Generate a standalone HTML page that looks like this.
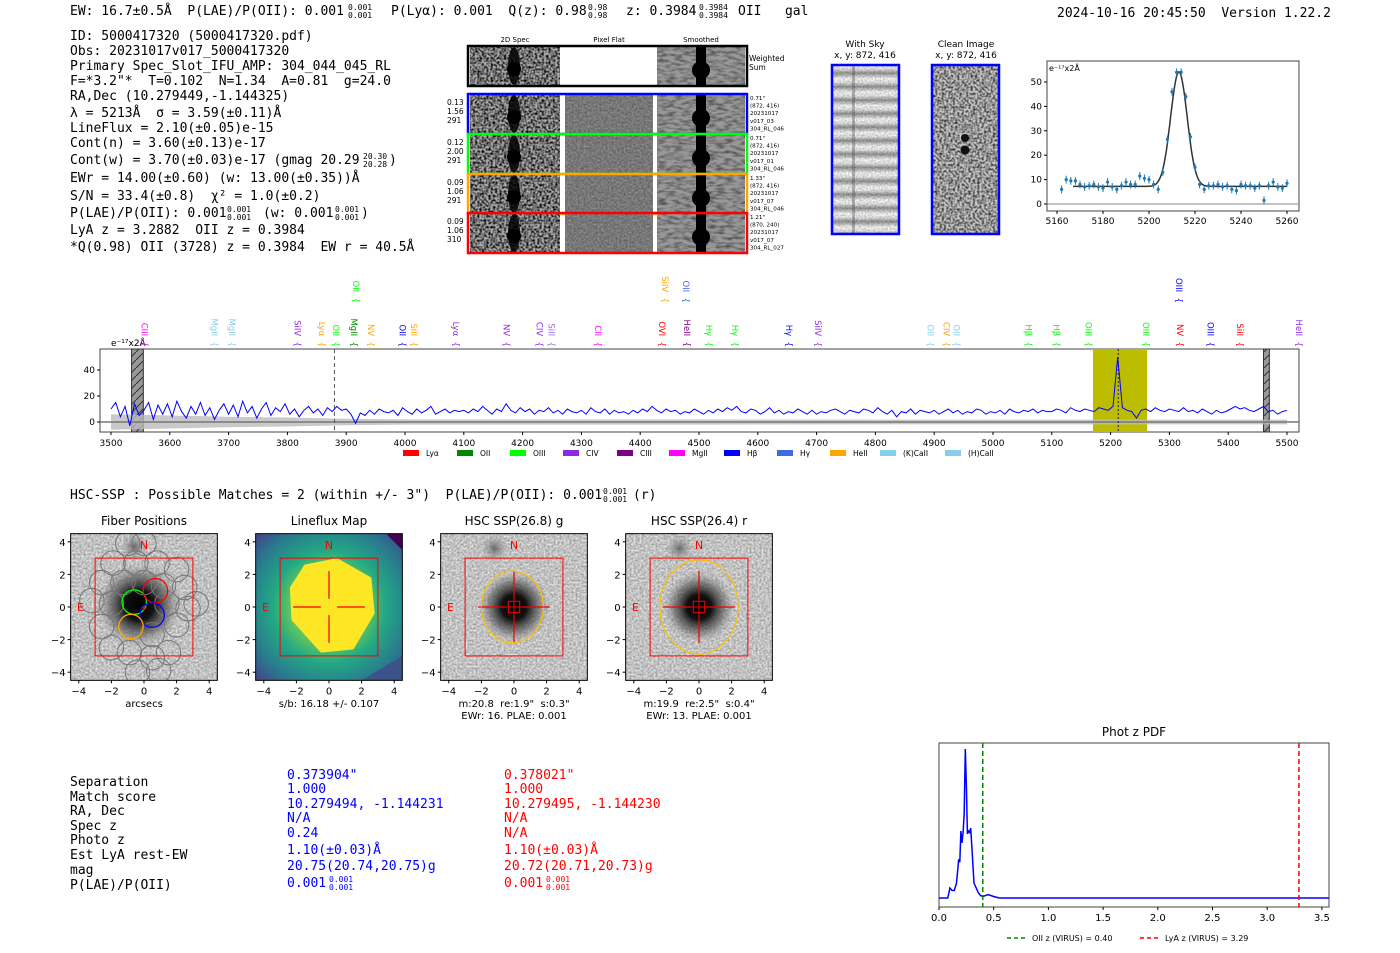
<!DOCTYPE html>
<html><head><meta charset="utf-8">
<style>
html,body{margin:0;padding:0;background:#fff;}
svg{display:block;}
text{white-space:pre;}
.m{font-family:"DejaVu Sans Mono","Liberation Mono",monospace;font-size:13px;}
.s{font-family:"DejaVu Sans","Liberation Sans",sans-serif;}
</style></head>
<body>
<svg id="root" width="1400" height="953" viewBox="0 0 1400 953" xmlns="http://www.w3.org/2000/svg">
<defs>
<filter id="noise" x="0" y="0" width="100%" height="100%"><feTurbulence type="fractalNoise" baseFrequency="0.45" numOctaves="1" seed="3"/><feColorMatrix type="matrix" values="0 0 0 0 0 0 0 0 0 0 0 0 0 0 0 2.5 0 0 0 -0.9"/></filter>
<filter id="noise2" x="0" y="0" width="100%" height="100%"><feTurbulence type="fractalNoise" baseFrequency="0.12 0.35" numOctaves="2" seed="7"/><feColorMatrix type="matrix" values="0 0 0 0 0 0 0 0 0 0 0 0 0 0 0 1.8 0 0 0 -0.7"/></filter>
<filter id="noise3" x="0" y="0" width="100%" height="100%"><feTurbulence type="fractalNoise" baseFrequency="0.5" numOctaves="1" seed="11"/><feColorMatrix type="matrix" values="0 0 0 0 0 0 0 0 0 0 0 0 0 0 0 0.6 0 0 0 -0.15"/></filter>
<filter id="noise4" x="0" y="0" width="100%" height="100%"><feTurbulence type="fractalNoise" baseFrequency="0.6" numOctaves="1" seed="5"/><feColorMatrix type="matrix" values="0 0 0 0 0 0 0 0 0 0 0 0 0 0 0 0.5 0 0 0 -0.15"/></filter>
<radialGradient id="blob"><stop offset="0" stop-color="#000"/><stop offset="0.35" stop-color="#111"/><stop offset="0.7" stop-color="#555" stop-opacity="0.6"/><stop offset="1" stop-color="#999" stop-opacity="0"/></radialGradient>
<radialGradient id="blobs"><stop offset="0" stop-color="#666"/><stop offset="1" stop-color="#aaa" stop-opacity="0"/></radialGradient>
<radialGradient id="vir" cx="0.5" cy="0.5" r="0.7"><stop offset="0.3" stop-color="#7ad151"/><stop offset="0.55" stop-color="#22a884"/><stop offset="0.8" stop-color="#2a788e"/><stop offset="1" stop-color="#414487"/></radialGradient>
<pattern id="hatch" width="8" height="8" patternUnits="userSpaceOnUse"><rect width="8" height="8" fill="#999"/><path d="M0 8 L8 0" stroke="#333" stroke-width="1"/></pattern>
<linearGradient id="stripeg" x1="0" y1="0" x2="0" y2="1"><stop offset="0" stop-color="#fff"/><stop offset="0.3" stop-color="#eee"/><stop offset="0.6" stop-color="#999"/><stop offset="1" stop-color="#fff"/></linearGradient>
<pattern id="stripes" x="0" y="65" width="67" height="13.5" patternUnits="userSpaceOnUse"><rect width="67" height="13.5" fill="url(#stripeg)"/></pattern>
</defs>

<g class="m">
<text x="70" y="15">EW: 16.7±0.5Å  P(LAE)/P(OII): 0.001</text>
<text x="348" y="10" font-size="8">0.001</text><text x="348" y="18" font-size="8">0.001</text>
<text x="391" y="15">P(Lyα): 0.001  Q(z): 0.98</text>
<text x="588" y="10" font-size="8">0.98</text><text x="588" y="18" font-size="8">0.98</text>
<text x="626" y="15">z: 0.3984</text>
<text x="699" y="10" font-size="8">0.3984</text><text x="699" y="18" font-size="8">0.3984</text>
<text x="738" y="15">OII   gal</text>
<text x="1057" y="17">2024-10-16 20:45:50  Version 1.22.2</text>
</g>

<g class="m">
<text x="70" y="40">ID: 5000417320 (5000417320.pdf)</text>
<text x="70" y="55">Obs: 20231017v017_5000417320</text>
<text x="70" y="70">Primary Spec_Slot_IFU_AMP: 304_044_045_RL</text>
<text x="70" y="85">F=*3.2"*  T=0.102  N=1.34  A=0.81  g=24.0</text>
<text x="70" y="100">RA,Dec (10.279449,-1.144325)</text>
<text x="70" y="117">λ = 5213Å  σ = 3.59(±0.11)Å</text>
<text x="70" y="132">LineFlux = 2.10(±0.05)e-15</text>
<text x="70" y="147">Cont(n) = 3.60(±0.13)e-17</text>
<text x="70" y="164">Cont(w) = 3.70(±0.03)e-17 (gmag 20.29</text>
<text x="363" y="159" font-size="8">20.30</text><text x="363" y="167" font-size="8">20.28</text><text x="389" y="164">)</text>
<text x="70" y="182">EWr = 14.00(±0.60) (w: 13.00(±0.35))Å</text>
<text x="70" y="200">S/N = 33.4(±0.8)  χ² = 1.0(±0.2)</text>
<text x="70" y="217">P(LAE)/P(OII): 0.001</text>
<text x="227" y="212" font-size="8">0.001</text><text x="227" y="220" font-size="8">0.001</text>
<text x="263" y="217">(w: 0.001</text>
<text x="335" y="212" font-size="8">0.001</text><text x="335" y="220" font-size="8">0.001</text><text x="361" y="217">)</text>
<text x="70" y="234">LyA z = 3.2882  OII z = 0.3984</text>
<text x="70" y="251">*Q(0.98) OII (3728) z = 0.3984  EW r = 40.5Å</text>
</g>

<g id="cutouts">
<g class="s" font-size="7" text-anchor="middle"><text x="515" y="42">2D Spec</text><text x="609" y="42">Pixel Flat</text><text x="701" y="42">Smoothed</text></g>
</g>

<g class="s" font-size="9" text-anchor="middle">
<text x="865" y="47">With Sky</text><text x="865" y="58">x, y: 872, 416</text>
<text x="966" y="47">Clean Image</text><text x="966" y="58">x, y: 872, 416</text>
<rect x="832" y="65" width="67" height="169" fill="url(#stripes)"/>
<rect x="832" y="65" width="67" height="169" filter="url(#noise4)"/>
<rect x="852" y="65" width="3" height="169" fill="#444" opacity="0.35"/>
<rect x="932" y="65" width="67" height="169" fill="#c8c8c8"/>
<rect x="932" y="65" width="67" height="169" filter="url(#noise)" opacity="0.75"/>
<ellipse cx="965" cy="138" rx="4" ry="4" fill="#111"/><ellipse cx="965" cy="150" rx="4.5" ry="4.5" fill="#111"/>
<rect x="832" y="65" width="67" height="169" fill="none" stroke="#00f" stroke-width="2.5"/>
<rect x="932" y="65" width="67" height="169" fill="none" stroke="#00f" stroke-width="2.5"/>
</g>

<g id="fit" class="s" font-size="9"></g>
<g id="spec" class="s" font-size="9"></g>

<g class="m">
<text x="70" y="499">HSC-SSP : Possible Matches = 2 (within +/- 3")  P(LAE)/P(OII): 0.001</text>
<text x="603" y="494" font-size="8">0.001</text><text x="603" y="502" font-size="8">0.001</text>
<text x="633" y="499">(r)</text>
</g>
<g id="panels" class="s"></g>

<g class="m">
<g>
<text x="70" y="786">Separation</text><text x="70" y="801">Match score</text><text x="70" y="815">RA, Dec</text><text x="70" y="830">Spec z</text><text x="70" y="844">Photo z</text><text x="70" y="859">Est LyA rest-EW</text><text x="70" y="874">mag</text><text x="70" y="889">P(LAE)/P(OII)</text>
</g>
<g fill="#00f">
<text x="287" y="779">0.373904"</text><text x="287" y="793">1.000</text><text x="287" y="808">10.279494, -1.144231</text><text x="287" y="822">N/A</text><text x="287" y="837">0.24</text><text x="287" y="854">1.10(±0.03)Å</text><text x="287" y="870">20.75(20.74,20.75)g</text><text x="287" y="887">0.001</text>
<text x="329" y="882" font-size="8">0.001</text><text x="329" y="890" font-size="8">0.001</text>
</g>
<g fill="#f00">
<text x="504" y="779">0.378021"</text><text x="504" y="793">1.000</text><text x="504" y="808">10.279495, -1.144230</text><text x="504" y="822">N/A</text><text x="504" y="837">N/A</text><text x="504" y="854">1.10(±0.03)Å</text><text x="504" y="870">20.72(20.71,20.73)g</text><text x="504" y="887">0.001</text>
<text x="546" y="882" font-size="8">0.001</text><text x="546" y="890" font-size="8">0.001</text>
</g>
</g>

<g id="pdf" class="s" font-size="10"></g>
</svg>

<script>
const fitWave = [5162,5164,5166,5168,5170,5172,5174,5176,5178,5180,5182,5184,5186,5188,5190,5192,5194,5196,5198,5200,5202,5204,5206,5208,5210,5212,5214,5216,5218,5220,5222,5224,5226,5228,5230,5232,5234,5236,5238,5240,5242,5244,5246,5248,5250,5252,5254,5256,5258,5260];
const fitFlux = [6,10,9.5,9.5,8,7,7.5,8,7,6.5,9,7,6,7.5,9,8,8,11.5,10.5,10,8,6,13,26.5,46,54,54,44,27.5,15,8,6,7.5,7.5,8,7,7.5,6,5.5,8,7.5,7.5,6.5,7.5,1.5,7.5,9,7,6.5,8.5];
const fitTicksX = [5160,5180,5200,5220,5240,5260];
const fitTicksY = [0,10,20,30,40,50];
const fitCenter = 5213, fitSigma = 3.59, fitAmp = 47, fitCont = 7.2;

const specStart = 3500, specStep = 8;
const specFlux = [
10,15,4,12,-3,14,5,9,15,2,13,6,14,4,16,8,3,12,6,15,5,11,2,9,14,
6,13,4,16,7,12,3,10,15,5,11,8,14,6,10,4,9,12,7,10,5,11,8,12,9,
10,6,-1,7,5,9,6,10,8,7,9,5,11,8,6,10,7,9,12,6,8,10,7,9,8,
9,7,10,8,12,9,6,10,8,14,9,7,11,8,10,6,9,8,11,7,9,6,10,8,7,
9,6,11,8,7,10,6,9,7,8,6,9,7,10,8,12,9,7,10,8,9,6,8,7,10,
8,6,9,7,10,8,11,9,12,8,7,10,9,6,8,11,7,9,6,8,7,10,8,6,9,
6,8,7,9,10,8,6,9,8,7,10,9,7,11,8,6,9,4,8,7,10,6,9,8,7,
9,6,8,10,7,9,6,8,7,10,9,6,8,7,9,6,10,8,7,9,8,10,7,9,8,
8,10,9,7,11,9,8,10,9,8,11,10,9,12,50,11,9,8,3,9,10,8,11,9,8,
10,9,8,11,8,9,7,10,8,6,9,7,8,10,12,10,11,9,8,10,12,8,9,6,8,
9];
const errWave = [3500,3600,3700,3800,3900,4000,4200,4500,5000,5500];
const errVal = [6,5,4,3.5,2.5,2,2,2,1.8,1.8];
const specTicksX = [3500,3600,3700,3800,3900,4000,4100,4200,4300,4400,4500,4600,4700,4800,4900,5000,5100,5200,5300,5400,5500];
const specTicksY = [0,20,40];
const lineNames = ["CIII","MgII","MgII","SiIV","Lyα","OII","MgII","NV","OII","SiII","Lyα","NV","CIV","SiII","CII","OVI","HeII","Hγ","Hγ","Hγ","SiIV","OII","CIV","OII","Hβ","Hβ","OIII","OIII","NV","OIII","SiII","HeII","OII","SiIV","OII","OIII"];
const lineWaves = [3557,3676,3706,3817,3859,3883,3913,3942,3996,4015,4087,4173,4229,4249,4328,4437,4480,4517,4561,4653,4702,4894,4921,4938,5060,5108,5162,5260,5318,5370,5420,5520,3917,4442,4478,5316];
const lineColors = ["#f0f","#87ceeb","#87ceeb","#8a2be2","#ffa500","#0f0","#080","#ffa500","#00f","#ffa500","#8a2be2","#8a2be2","#8a2be2","#9370db","#f0f","#f00","#800080","#0f0","#0f0","#00f","#8a2be2","#87ceeb","#ffa500","#87ceeb","#0f0","#0f0","#0f0","#0f0","#f00","#00f","#f00","#8a2be2","#0f0","#ffa500","#4169e1","#00f"];
const lineRow = [0,0,0,0,0,0,0,0,0,0,0,0,0,0,0,0,0,0,0,0,0,0,0,0,0,0,0,0,0,0,0,0,1,1,1,1];
const legendNames = ["Lyα","OII","OIII","CIV","CIII","MgII","Hβ","Hγ","HeII","(K)CaII","(H)CaII"];
const legendColors = ["#f00","#080","#0f0","#8a2be2","#800080","#f0f","#00f","#4169e1","#ffa500","#87ceeb","#87ceeb"];

const pdfZ = [0,0.08,0.1,0.12,0.14,0.16,0.18,0.19,0.2,0.21,0.22,0.23,0.24,0.25,0.26,0.27,0.28,0.29,0.3,0.32,0.34,0.36,0.38,0.4,0.45,0.5,0.55,3.6];
const pdfP = [0,0,0.067,0.05,0.05,0.1,0.26,0.24,0.45,0.37,0.44,0.57,1.0,0.75,0.43,0.45,0.44,0.47,0.35,0.1,0.067,0.034,0.016,0.01,0.022,0.01,0,0];
const pdfTicks = [0,0.5,1,1.5,2,2.5,3,3.5];
const pdfOIIz = 0.40, pdfLyAz = 3.29;

const NS = "http://www.w3.org/2000/svg";
function mk(parent, tag, attrs, text){
  const e = document.createElementNS(NS, tag);
  for (const k in attrs) e.setAttribute(k, attrs[k]);
  if (text !== undefined) e.textContent = text;
  parent.appendChild(e);
  return e;
}

(function(){
  const g = document.getElementById('cutouts');
  const rows = [{y:47,h:38,c:"#000",lab:null},
    {y:95,h:38,c:"#00f",lab:["0.13","1.56","291"],side:["0.71\"","(872, 416)","20231017","v017_03","304_RL_046"]},
    {y:135,h:38,c:"#0f0",lab:["0.12","2.00","291"],side:["0.71\"","(872, 416)","20231017","v017_01","304_RL_046"]},
    {y:175,h:38,c:"#ffa500",lab:["0.09","1.06","291"],side:["1.33\"","(872, 416)","20231017","v017_07","304_RL_046"]},
    {y:214,h:38,c:"#f00",lab:["0.09","1.06","310"],side:["1.21\"","(870, 240)","20231017","v017_07","304_RL_027"]}];
  rows.forEach((r,i)=>{
    const row = mk(g,'g',{});
    
    
    mk(row,'rect',{x:470,y:r.y,width:90,height:r.h,fill:"#aaa"});
    mk(row,'rect',{x:470,y:r.y,width:90,height:r.h,filter:"url(#noise)"});
    mk(row,'ellipse',{cx:514,cy:r.y+r.h/2,rx:6,ry:r.h/2,fill:"#000",opacity:0.85});
    mk(row,'circle',{cx:514,cy:r.y+r.h/2+3,r:7,fill:"#000"});
    mk(row,'rect',{x:565,y:r.y,width:88,height:r.h,fill: i==0?"#fff":"#8c8c8c"});
    if(i>0) mk(row,'rect',{x:565,y:r.y,width:88,height:r.h,filter:"url(#noise3)"});
    mk(row,'rect',{x:657,y:r.y,width:88,height:r.h,fill:"#999"});
    mk(row,'rect',{x:657,y:r.y,width:88,height:r.h,filter:"url(#noise2)",opacity:0.6});
    mk(row,'rect',{x:696,y:r.y,width:10,height:r.h,fill:"#000"});
    mk(row,'circle',{cx:701,cy:r.y+r.h/2+4,r:9,fill:"#000"});
    mk(row,'rect',{x:468,y:r.y-1,width:279,height:r.h+2,fill:"none",stroke:r.c,"stroke-width":2.5});
    if(r.lab){ r.lab.forEach((t,j)=>mk(row,'text',{x:447,y:r.y+10+j*9,"font-size":7.5,"font-family":"DejaVu Sans, sans-serif"},t));
      r.side.forEach((t,j)=>mk(row,'text',{x:750,y:r.y+5+j*7.6,"font-size":5.6,"font-family":"DejaVu Sans, sans-serif"},t)); }
    else { mk(row,'text',{x:749,y:61,"font-size":7.5,"font-family":"DejaVu Sans, sans-serif"},"Weighted");
      mk(row,'text',{x:749,y:70,"font-size":7.5,"font-family":"DejaVu Sans, sans-serif"},"Sum"); }
  });
})();

(function(){
  const g = document.getElementById('fit');
  const fx = w => 1057 + (w-5160)*2.3, fy = v => 204 - v*2.44;
  mk(g,'rect',{x:1047,y:61,width:252,height:150,fill:"#fff",stroke:"#444","stroke-width":1});
  mk(g,'line',{x1:1047,x2:1299,y1:fy(0),y2:fy(0),stroke:"#888"});
  fitTicksY.forEach(v=>{ mk(g,'line',{x1:1044,x2:1047,y1:fy(v),y2:fy(v),stroke:"#000"});
    mk(g,'text',{x:1042,y:fy(v)+3,"text-anchor":"end"},String(v)); });
  fitTicksX.forEach(v=>{ mk(g,'line',{x1:fx(v),x2:fx(v),y1:211,y2:214,stroke:"#000"});
    mk(g,'text',{x:fx(v),y:224,"text-anchor":"middle"},String(v)); });
  mk(g,'text',{x:1049,y:71,"font-size":8},"e⁻¹⁷x2Å");
  let d="";
  for(let w=5167; w<=5260; w+=0.5){ const v=fitCont+fitAmp*Math.exp(-0.5*Math.pow((w-fitCenter)/fitSigma,2)); d+=(d?"L":"M")+fx(w).toFixed(1)+" "+fy(v).toFixed(1); }
  const fl = mk(g,'path',{d:d,fill:"none",stroke:"#333","stroke-width":1.5});
  
  
  fitWave.forEach((w,i)=>{
    const p = mk(g,'g',{});
    
    
    mk(p,'line',{x1:fx(w),x2:fx(w),y1:fy(fitFlux[i]+1.6),y2:fy(fitFlux[i]-1.6),stroke:"#1f77b4","stroke-width":1});
    mk(p,'circle',{cx:fx(w),cy:fy(fitFlux[i]),r:1.6,fill:"#1f77b4"});
  });
})();

(function(){
  const g = document.getElementById('spec');
  const fx = w => 111 + (w-3500)*0.588, fy = v => 422 - v*1.3;
  mk(g,'rect',{x:100,y:349,width:1199,height:83,fill:"#fff",stroke:"#444"});
  const band = mk(g,'rect',{x:fx(5170),y:349,width:fx(5262)-fx(5170),height:83,fill:"#bdbd00"});
  
  
  mk(g,'rect',{x:fx(3535),y:349,width:fx(3555)-fx(3535),height:83,fill:"url(#hatch)",stroke:"#333"});
  mk(g,'rect',{x:fx(5460),y:349,width:fx(5470)-fx(5460),height:83,fill:"url(#hatch)",stroke:"#333"});
  let up="",dn="";
  errWave.forEach((w,i)=>{ up+=(up?"L":"M")+fx(w)+" "+fy(errVal[i]); });
  for(let i=errWave.length-1;i>=0;i--) dn+="L"+fx(errWave[i])+" "+fy(-errVal[i]);
  mk(g,'path',{d:up+dn+"Z",fill:"#bbb",opacity:0.8});
  mk(g,'line',{x1:100,x2:1299,y1:fy(0),y2:fy(0),stroke:"#777","stroke-width":1.5});
  mk(g,'line',{x1:fx(3880),x2:fx(3880),y1:349,y2:432,stroke:"#555","stroke-dasharray":"4,3"});
  mk(g,'line',{x1:fx(5213),x2:fx(5213),y1:349,y2:432,stroke:"#222","stroke-dasharray":"2,2"});
  let d="";
  specFlux.forEach((v,i)=>{ d+=(i?"L":"M")+fx(specStart+i*specStep).toFixed(1)+" "+fy(v).toFixed(1); });
  const sl = mk(g,'path',{d:d,fill:"none",stroke:"#00f","stroke-width":1});
  
  
  specTicksY.forEach(v=>{ mk(g,'line',{x1:97,x2:100,y1:fy(v),y2:fy(v),stroke:"#000"});
    mk(g,'text',{x:95,y:fy(v)+3,"text-anchor":"end"},String(v)); });
  specTicksX.forEach(v=>{ mk(g,'line',{x1:fx(v),x2:fx(v),y1:432,y2:435,stroke:"#000"});
    mk(g,'text',{x:fx(v),y:446,"text-anchor":"middle"},String(v)); });
  mk(g,'text',{x:111,y:346,"font-size":9},"e⁻¹⁷x2Å");
  lineNames.forEach((n,i)=>{
    const x=fx(lineWaves[i]), yEnd = lineRow[i]?303:347;
    const t = mk(g,'text',{x:0,y:0,fill:lineColors[i],"font-size":8.5,"text-anchor":"end",transform:`translate(${x-3},${yEnd}) rotate(90)`},n+"  {");
    
    
  });
  const lxs=[403,457,510,563,617,669,724,777,830,880,945];
  legendNames.forEach((n,i)=>{
    const e=mk(g,'g',{});
    
    
    mk(e,'rect',{x:lxs[i],y:450,width:16,height:6,fill:legendColors[i]});
    mk(e,'text',{x:lxs[i]+23,y:456,"font-size":7.5},n);
  });
})();

(function(){
  const g = document.getElementById('panels');
  const panels=[{cx:144,title:"Fiber Positions",sub:["arcsecs"]},{cx:329,title:"Lineflux Map",sub:["s/b: 16.18 +/- 0.107"]},
   {cx:514,title:"HSC SSP(26.8) g",sub:["m:20.8  re:1.9\"  s:0.3\"","EWr: 16. PLAE: 0.001"]},{cx:699,title:"HSC SSP(26.4) r",sub:["m:19.9  re:2.5\"  s:0.4\"","EWr: 13. PLAE: 0.001"]}];
  const cy=607, s=16.3;
  const fibers=[[-1,3.9],[0,3.9],[-1.9,2.7],[-0.5,2.7],[0.8,2.7],[2,2.3],[-2.6,1.5],[-1.3,1.5],[0,1.5],[1.2,1.3],[2.5,1.2],[-3.2,0.4],[-2,0.2],[1.4,0.2],[2.7,-0.1],[3.2,0.2],[-2.6,-1.2],[0.5,-1.7],[2,-1.1],[-2,-2.5],[-0.9,-2.8],[0.5,-3.1],[1.5,-2.8],[0.9,-3.9],[-0.4,-4]];
  panels.forEach((p,pi)=>{
    const pg=mk(g,'g',{});
    
    
    const X=v=>p.cx+v*s, Y=v=>cy-v*s;
    mk(pg,'text',{x:p.cx,y:525,"text-anchor":"middle","font-size":12},p.title);
    const cpp=mk(pg,'clipPath',{id:"cp"+pi});
    mk(cpp,'rect',{x:X(-4.5),y:Y(4.5),width:9*s,height:9*s});
    const ig=mk(pg,'g',{"clip-path":`url(#cp${pi})`});
    if(pi==1){
      mk(ig,'rect',{x:X(-4.5),y:Y(4.5),width:9*s,height:9*s,fill:"url(#vir)"});
      mk(ig,'polygon',{points:[[-1.5,2.6],[0.5,3.0],[2.6,1.8],[2.8,-0.4],[1.5,-2.6],[-0.5,-2.8],[-2.3,-0.8],[-2.4,1.2]].map(a=>X(a[0])+","+Y(a[1])).join(" "),fill:"#fde725"});
      mk(ig,'polygon',{points:[[3.5,4.5],[4.5,4.5],[4.5,3.5]].map(a=>X(a[0])+","+Y(a[1])).join(" "),fill:"#440154"});
      mk(ig,'polygon',{points:[[2,-4.5],[4.5,-4.5],[4.5,-3]].map(a=>X(a[0])+","+Y(a[1])).join(" "),fill:"#3b528b"});
    } else {
      mk(ig,'rect',{x:X(-4.5),y:Y(4.5),width:9*s,height:9*s,fill:"#e4e4e4"});
      mk(ig,'rect',{x:X(-4.5),y:Y(4.5),width:9*s,height:9*s,filter:"url(#noise3)"});
      const bx = pi==0?-0.3:0, by = pi==0?0.1:0;
      mk(ig,'circle',{cx:X(bx),cy:Y(by),r:pi==0?2.6*s:2.2*s,fill:"url(#blob)"});
      mk(ig,'circle',{cx:X(pi==0?-0.6:-1.2),cy:Y(pi==0?3.7:3.6),r:0.9*s,fill:"url(#blobs)"});
    }
    if(pi==0){
      fibers.forEach(f=>mk(ig,'circle',{cx:X(f[0]),cy:Y(f[1]),r:0.75*s,fill:"none",stroke:"#777","stroke-width":1}));
      [[-0.6,0.3,"#0f0"],[0.7,1.0,"#f00"],[0.5,-0.5,"#00f"],[-0.8,-1.2,"#ffa500"]].forEach(c=>mk(ig,'circle',{cx:X(c[0]),cy:Y(c[1]),r:0.75*s,fill:"none",stroke:c[2],"stroke-width":1.3}));
    }
    mk(pg,'rect',{x:X(-3),y:Y(3),width:6*s,height:6*s,fill:"none",stroke:"#f00","stroke-width":1});
    if(pi>0){
      mk(pg,'path',{d:`M${X(-2.2)} ${cy}H${X(-0.5)}M${X(0.5)} ${cy}H${X(2.2)}M${p.cx} ${Y(2.2)}V${Y(0.5)}M${p.cx} ${Y(-0.5)}V${Y(-2.2)}`,stroke:"#e00","stroke-width":1.2});
    } else mk(pg,'text',{x:p.cx,y:cy+4,fill:"#f00","font-size":10,"text-anchor":"middle"},"+");
    if(pi>=2){
      mk(pg,'ellipse',{cx:X(pi==2?-0.1:0),cy:cy,rx:(pi==2?1.9:2.4)*s,ry:(pi==2?2.2:2.9)*s,fill:"none",stroke:"#ffc000","stroke-width":1.2});
      mk(pg,'rect',{x:X(-0.35),y:Y(0.35),width:0.7*s,height:0.7*s,fill:"none",stroke:"#f00","stroke-width":1});
      mk(pg,'path',{d:`M${X(-2)} ${cy}H${X(2)}M${p.cx} ${Y(2)}V${Y(-2)}`,stroke:"#e00","stroke-width":1});
    }
    mk(pg,'text',{x:p.cx,y:Y(3.8)+4,fill:"#f00","font-size":11,"text-anchor":"middle"},"N");
    mk(pg,'text',{x:X(-3.9),y:cy+4,fill:"#f00","font-size":11,"text-anchor":"middle"},"E");
    mk(pg,'rect',{x:X(-4.5),y:Y(4.5),width:9*s,height:9*s,fill:"none",stroke:"#000","stroke-width":1});
    [-4,-2,0,2,4].forEach(v=>{
      mk(pg,'line',{x1:X(v),x2:X(v),y1:Y(-4.5),y2:Y(-4.5)+3,stroke:"#000"});
      mk(pg,'text',{x:X(v),y:Y(-4.5)+14,"text-anchor":"middle","font-size":10},v<0?"−"+(-v):String(v));
      mk(pg,'line',{x1:X(-4.5)-3,x2:X(-4.5),y1:Y(v),y2:Y(v),stroke:"#000"});
      mk(pg,'text',{x:X(-4.5)-5,y:Y(v)+4,"text-anchor":"end","font-size":10},v<0?"−"+(-v):String(v));
    });
    p.sub.forEach((t,j)=>mk(pg,'text',{x:p.cx,y:707+j*12,"text-anchor":"middle","font-size":10},t));
  });
})();

(function(){
  const g = document.getElementById('pdf');
  const fx = z => 939 + z*109.4, fy = p => 898 - p*149;
  mk(g,'text',{x:1134,y:736,"text-anchor":"middle","font-size":12},"Phot z PDF");
  mk(g,'rect',{x:939,y:743,width:390,height:164,fill:"#fff",stroke:"#444"});
  let d="";
  pdfZ.forEach((z,i)=>{ d+=(i?"L":"M")+Math.min(fx(z),1329).toFixed(1)+" "+fy(pdfP[i]).toFixed(1); });
  const pl=mk(g,'path',{d:d,fill:"none",stroke:"#00f","stroke-width":1.5});
  
  
  mk(g,'line',{x1:fx(pdfOIIz),x2:fx(pdfOIIz),y1:743,y2:907,stroke:"#080","stroke-width":1.5,"stroke-dasharray":"5,3"});
  mk(g,'line',{x1:fx(pdfLyAz),x2:fx(pdfLyAz),y1:743,y2:907,stroke:"#f00","stroke-width":1.5,"stroke-dasharray":"5,3"});
  pdfTicks.forEach(v=>{ mk(g,'line',{x1:fx(v),x2:fx(v),y1:907,y2:910,stroke:"#000"});
    mk(g,'text',{x:fx(v),y:921,"text-anchor":"middle"},v.toFixed(1)); });
  mk(g,'line',{x1:1007,x2:1025,y1:938,y2:938,stroke:"#080","stroke-width":1.5,"stroke-dasharray":"4,3"});
  mk(g,'text',{x:1032,y:941,"font-size":8},"OII z (VIRUS) = "+pdfOIIz.toFixed(2));
  mk(g,'line',{x1:1140,x2:1158,y1:938,y2:938,stroke:"#f00","stroke-width":1.5,"stroke-dasharray":"4,3"});
  mk(g,'text',{x:1165,y:941,"font-size":8},"LyA z (VIRUS) = "+pdfLyAz.toFixed(2));
})();
</script>
</body></html>
